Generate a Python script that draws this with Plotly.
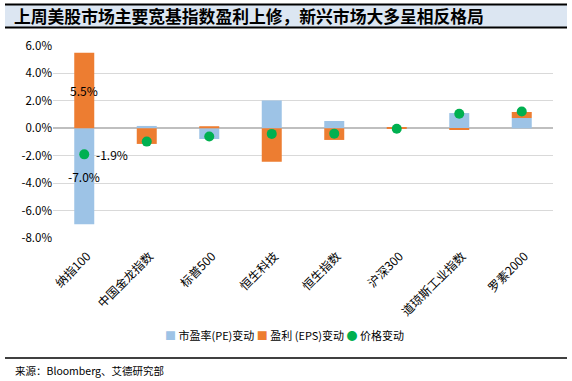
import plotly.graph_objects as go

categories = ["纳指100", "中国金龙指数", "标普500", "恒生科技", "恒生指数", "沪深300", "道琼斯工业指数", "罗素2000"]
pe_change = [-7.0, 0.17, -0.78, 2.03, 0.53, -0.04, 1.11, 0.75]
eps_change = [5.5, -1.14, 0.15, -2.44, -0.85, 0.07, -0.10, 0.44]
price_change = [-1.9, -0.97, -0.6, -0.41, -0.39, -0.03, 1.06, 1.22]
y_ticks = [-8, -6, -4, -2, 0, 2, 4, 6]
y_tick_labels = [f"{v:.1f}%" for v in y_ticks]

PE_COLOR, EPS_COLOR, PRICE_COLOR = "#9DC3E6", "#ED7D31", "#00B050"
PE_NAME, EPS_NAME, PRICE_NAME = "市盈率(PE)变动", "盈利 (EPS)变动", "价格变动"

CJK = "Noto Sans CJK SC, Noto Sans, sans-serif"

fig = go.Figure()
fig.add_trace(go.Bar(x=categories, y=pe_change, name=PE_NAME,
                     marker=dict(color=PE_COLOR, line=dict(width=0))))
fig.add_trace(go.Bar(x=categories, y=eps_change, name=EPS_NAME,
                     marker=dict(color=EPS_COLOR, line=dict(width=0))))
fig.add_trace(go.Scatter(x=categories, y=price_change, name=PRICE_NAME, mode="markers",
                         marker=dict(color=PRICE_COLOR, size=10, line=dict(width=0))))

ann = []
# data labels for the first category
ann.append(dict(x=categories[0], y=eps_change[0] / 2, text=f"{eps_change[0]:.1f}%",
                showarrow=False, font=dict(size=12, color="#000000", family=CJK)))
ann.append(dict(x=categories[0], y=pe_change[0] / 2, text=f"{pe_change[0]:.1f}%",
                showarrow=False, font=dict(size=12, color="#000000", family=CJK)))
ann.append(dict(x=categories[0], y=price_change[0], text=f"{price_change[0]:.1f}%",
                showarrow=False, xshift=28, font=dict(size=12, color="#000000", family=CJK)))
# title
ann.append(dict(xref="paper", yref="paper", x=-0.082, y=1.156, xanchor="left", yanchor="middle",
                text="<b>上周美股市场主要宽基指数盈利上修，新兴市场大多呈相反格局</b>",
                showarrow=False, font=dict(size=16.8, color="#000000", family=CJK)))
# source
ann.append(dict(xref="paper", yref="paper", x=-0.08, y=-0.6875, xanchor="left", yanchor="middle",
                text="来源：Bloomberg、艾德研究部", showarrow=False,
                font=dict(size=10.5, color="#000000", family=CJK)))
# legend (compact, as in the reference)
legend_text = (f'<span style="color:{PE_COLOR}">■</span> {PE_NAME} '
               f'<span style="color:{EPS_COLOR}">■</span> {EPS_NAME} '
               f'<span style="color:{PRICE_COLOR}">●</span> {PRICE_NAME}')
ann.append(dict(xref="paper", yref="paper", x=0.462, y=-0.505, xanchor="center", yanchor="middle",
                text=legend_text, showarrow=False,
                font=dict(size=11, color="#000000", family=CJK)))

shapes = [
    dict(type="rect", xref="paper", yref="paper", x0=-0.096, x1=1.028, y0=1.0964, y1=1.216,
         fillcolor="#DCE6F2", line=dict(width=0), layer="below"),
    dict(type="line", xref="paper", yref="paper", x0=-0.096, x1=1.028, y0=1.216, y1=1.216,
         line=dict(color="#000000", width=2)),
    dict(type="line", xref="paper", yref="paper", x0=-0.096, x1=1.028, y0=1.0964, y1=1.0964,
         line=dict(color="#000000", width=2)),
    dict(type="line", xref="paper", yref="paper", x0=-0.096, x1=1.028, y0=-0.625, y1=-0.625,
         line=dict(color="#000000", width=1.5)),
]

fig.update_layout(
    width=572, height=381,
    margin=dict(l=53, r=19, t=46, b=143, autoexpand=False),
    paper_bgcolor="#FFFFFF", plot_bgcolor="#FFFFFF",
    barmode="relative", bargap=0.68,
    font=dict(family=CJK, size=12, color="#000000"),
    showlegend=False,
    annotations=ann, shapes=shapes,
    xaxis=dict(type="category", tickangle=-45, tickfont=dict(size=12, family=CJK, color="#000000"),
               showgrid=False, showline=False, ticks="", fixedrange=True, automargin=False,
               ticklabelstandoff=8, ticklabelshift=3),
    yaxis=dict(range=[-8, 6], tickvals=y_ticks, ticktext=y_tick_labels,
               showgrid=True, gridcolor="#D9D9D9", gridwidth=1,
               zeroline=True, zerolinecolor="#BFBFBF", zerolinewidth=1.5, automargin=False,
               tickfont=dict(size=11.5, family=CJK, color="#000000"), ticks="", showline=False),
)

fig.write_html("out.html", config={"displayModeBar": False},
               post_script="document.body.style.margin='0';document.body.style.overflow='hidden';")
